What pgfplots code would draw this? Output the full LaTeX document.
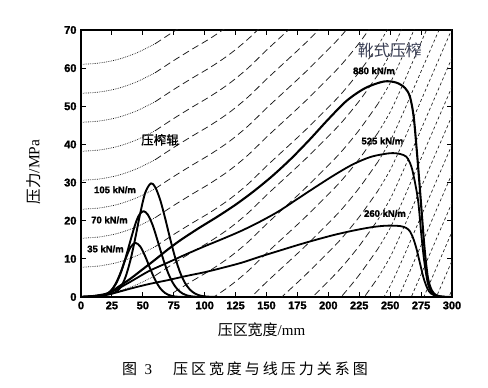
\documentclass[border=0pt]{standalone}
\usepackage{fontspec}
\setmainfont{Liberation Serif}
\newfontfamily\sans{Liberation Sans}
\newfontfamily\heavy[FakeBold=1.6]{Liberation Sans Bold}
\newfontfamily\cjk{Noto Sans CJK SC}
\newfontfamily\cjkb[FakeBold=0.8]{Noto Sans CJK SC}
\newfontfamily\cjkcap[LetterSpace=20]{Noto Sans CJK SC}
\usepackage{pgfplots}
\pgfplotsset{compat=1.18}
\definecolor{shoeblue}{RGB}{58,63,85}
\pgfplotsset{
  bgdot/.style={black!90, line width=0.75pt, dash pattern=on 0.7pt off 1.1pt, smooth},
  bgdash/.style={black!90, line width=0.75pt, dash pattern=on 7pt off 4pt, smooth},
  bgfine/.style={black!90, line width=0.65pt, dash pattern=on 3pt off 2.5pt, smooth},
  main/.style={black, line width=1.9pt, smooth, line join=round},
}
\newcommand{\bgline}[1]{%
  \addplot[bgdot, restrict x to domain=0:60] coordinates {#1};
  \addplot[bgdash, restrict x to domain=60:240] coordinates {#1};
  \addplot[bgfine, restrict x to domain=240:300] coordinates {#1};
}
\begin{document}
\begin{tikzpicture}[x=1pt,y=1pt]
\useasboundingbox (0,0) rectangle (488,388);
\begin{axis}[
  at={(81pt,91pt)}, anchor=south west,
  scale only axis, width=371pt, height=267pt,
  xmin=0, xmax=300, ymin=0, ymax=70,
  xtick={0,25,...,300}, ytick={0,10,...,70},
  tick align=inside, major tick length=5pt,
  axis line style={line width=1.1pt},
  every tick/.style={line width=1pt, black},
  /pgf/number format/assume math mode=true,
  ticklabel style={font=\heavy\fontsize{11}{12}\selectfont},
  xticklabel style={yshift=-1pt},
  yticklabel style={xshift=-1pt},
  clip=true,
]
\bgline{(0,61) (15,61.35) (30,62.3) (45,64.0) (60,66.4) (75,69.6) (90,72.6)}
\bgline{(0,53.4) (15,53.75) (30,54.7) (45,56.4) (60,58.8) (75,62.0) (90,65.0) (105,67.9) (120,71.2)}
\bgline{(0,45.8) (15,46.15) (30,47.1) (45,48.8) (60,51.2) (75,54.4) (90,57.4) (105,60.3) (120,63.6) (135,67.6) (150,72.3)}
\bgline{(0,38.2) (15,38.55) (30,39.5) (45,41.2) (60,43.6) (75,46.8) (90,49.8) (105,52.7) (120,56.0) (135,60.0) (150,64.7) (165,69.2) (180,73.7)}
\bgline{(0,30.6) (15,30.95) (30,31.9) (45,33.6) (60,36.0) (75,39.2) (90,42.2) (105,45.1) (120,48.4) (135,52.4) (150,57.1) (165,61.6) (180,66.1) (195,70.9)}
\bgline{(0,23) (15,23.35) (30,24.3) (45,26.0) (60,28.4) (75,31.6) (90,34.6) (105,37.5) (120,40.8) (135,44.8) (150,49.5) (165,54.0) (180,58.5) (195,63.3) (210,68.3) (225,74.2)}
\bgline{(0,15.4) (15,15.75) (30,16.7) (45,18.4) (60,20.8) (75,24.0) (90,27.0) (105,29.9) (120,33.2) (135,37.2) (150,41.9) (165,46.4) (180,50.9) (195,55.7) (210,60.7) (225,66.6) (240,73.4)}
\bgline{(0,7.8) (15,8.15) (30,9.1) (45,10.8) (60,13.2) (75,16.4) (90,19.4) (105,22.3) (120,25.6) (135,29.6) (150,34.3) (165,38.8) (180,43.3) (195,48.1) (210,53.1) (225,59.0) (240,65.8) (250,71.3)}
\bgline{(0,0.2) (15,0.55) (30,1.5) (45,3.2) (60,5.6) (75,8.8) (90,11.8) (105,14.7) (120,18.0) (135,22.0) (150,26.7) (165,31.2) (180,35.7) (195,40.5) (210,45.5) (225,51.4) (240,58.2) (250,63.7) (260,70.7)}
\bgline{(60,-2.0) (75,1.2) (90,4.2) (105,7.1) (120,10.4) (135,14.4) (150,19.1) (165,23.6) (180,28.1) (195,32.9) (210,37.9) (225,43.8) (240,50.6) (250,56.1) (260,63.1) (270,70.6)}
\bgline{(90,-3.4) (105,-0.5) (120,2.8) (135,6.8) (150,11.5) (165,16.0) (180,20.5) (195,25.3) (210,30.3) (225,36.2) (240,43.0) (250,48.5) (260,55.5) (270,63.0) (280,70.5)}
\bgline{(120,-4.8) (135,-0.8) (150,3.9) (165,8.4) (180,12.9) (195,17.7) (210,22.7) (225,28.6) (240,35.4) (250,40.9) (260,47.9) (270,55.4) (280,62.9) (290,70.4)}
\bgline{(135,-8.4) (150,-3.7) (165,0.8) (180,5.3) (195,10.1) (210,15.1) (225,21.0) (240,27.8) (250,33.3) (260,40.3) (270,47.8) (280,55.3) (290,62.8) (300,70.3)}
\bgline{(150,-11.3) (165,-6.8) (180,-2.3) (195,2.5) (210,7.5) (225,13.4) (240,20.2) (250,25.7) (260,32.7) (270,40.2) (280,47.7) (290,55.2) (300,62.7)}
\bgline{(180,-9.9) (195,-5.1) (210,-0.1) (225,5.8) (240,12.6) (250,18.1) (260,25.1) (270,32.6) (280,40.1) (290,47.6) (300,55.1)}
\bgline{(195,-12.7) (210,-7.7) (225,-1.8) (240,5.0) (250,10.5) (260,17.5) (270,25.0) (280,32.5) (290,40.0) (300,47.5)}
\bgline{(210,-15.3) (225,-9.4) (240,-2.6) (250,2.9) (260,9.9) (270,17.4) (280,24.9) (290,32.4) (300,39.9)}
\bgline{(225,-17.0) (240,-10.2) (250,-4.7) (260,2.3) (270,9.8) (280,17.3) (290,24.8) (300,32.3)}
\bgline{(240,-17.8) (250,-12.3) (260,-5.3) (270,2.2) (280,9.7) (290,17.2) (300,24.7)}
\bgline{(250,-19.9) (260,-12.9) (270,-5.4) (280,2.1) (290,9.6) (300,17.1)}
\bgline{(260,-20.5) (270,-13.0) (280,-5.5) (290,2.0) (300,9.5)}
\bgline{(270,-20.6) (280,-13.1) (290,-5.6) (300,1.9)}

% roll press (35, 70, 105 kN/m)
\addplot[main] coordinates {(0,0) (5,0.05) (10,0.15) (15,0.3) (20,0.6) (24,1.55) (28,3.44) (32,6.39) (36,9.96) (40,13.0) (44,14.2) (48,13.2) (52,10.6) (56,7.39) (60,4.45) (64,2.31) (68,1.04) (72,0.41) (76,0.14) (80,0.04) (86,0)};
\addplot[main] coordinates {(0,0) (5,0.05) (10,0.15) (15,0.3) (20,0.67) (24,1.58) (28,3.32) (32,6.17) (36,10.2) (40,14.8) (44,19.2) (47,21.5) (50.5,22.5) (54,21.6) (58,18.8) (62,14.7) (66,10.4) (70,6.66) (74,3.84) (78,2.0) (82,0.94) (86,0.40) (90,0.15) (95,0.03) (100,0)};
\addplot[main] coordinates {(0,0) (5,0.05) (10,0.15) (15,0.3) (20,0.6) (24,0.85) (28,1.3) (32,2.49) (36,5.25) (40,9.68) (44,15.6) (48,22.1) (52,27.4) (56.5,29.8) (60,28.8) (64,25.5) (68,20.7) (72,15.4) (76,10.5) (80,6.55) (84,3.74) (88,1.96) (92,0.94) (96,0.41) (100,0.17) (106,0.03) (112,0)};
% shoe press (880, 525, 260 kN/m)
\addplot[main, line width=2.1pt] coordinates {(0,0) (10,0.25) (20,0.8) (25,1.5) (30,2.6) (40,4.8) (50,7.3) (60,9.8) (70,12.4) (80,14.8) (95,18.0) (110,21.0) (125,24.2) (140,27.8) (155,31.8) (170,36.3) (185,41.3) (200,46.6) (215,51.5) (230,54.8) (245,56.5) (255,56.2) (262,54.8) (266,52.5) (269,47.3) (271.5,38.5) (274,28.5) (276,20) (278,12) (280.5,5) (283.5,1.8) (287,0.5) (292,0.1) (300,0)};
\addplot[main, line width=1.8pt] coordinates {(0,0) (10,0.2) (20,0.7) (30,2.2) (40,4) (55,6.8) (70,9) (85,11.2) (100,13.3) (115,15.3) (130,17.4) (145,19.8) (160,22.5) (175,25.7) (190,28.9) (205,32) (220,34.8) (235,36.8) (250,37.7) (258,37.5) (263,36.8) (266,35.2) (268.5,32.5) (272.5,25.5) (275,17) (277.5,9.5) (280.5,3.5) (284,1) (289,0.2) (295,0) (300,0)};
\addplot[main, line width=1.8pt] coordinates {(0,0) (10,0.15) (20,0.5) (30,1.3) (40,2.2) (55,3.4) (70,4.4) (85,5.5) (100,6.5) (115,7.7) (130,9) (145,10.6) (160,12.1) (175,13.6) (190,15) (205,16.3) (220,17.4) (235,18.3) (247,18.7) (258,18.6) (263,18.1) (266,17.2) (268.5,15.5) (271,13) (274,9) (277,5) (280,2.3) (283,0.9) (288,0.2) (295,0) (300,0)};

\begin{scope}[every node/.style={font=\heavy\fontsize{9.5}{11}\selectfont, inner sep=0pt}]
\node at (axis cs:27.5,28.1) {105 kN/m};
\node at (axis cs:23,20.2) {70 kN/m};
\node at (axis cs:19.8,12.6) {35 kN/m};
\node at (axis cs:236.9,59.3) {880 kN/m};
\node at (axis cs:243.7,40.9) {525 kN/m};
\node at (axis cs:245.8,21.9) {260 kN/m};
\end{scope}
\node[font=\cjkb\fontsize{12.5}{14}\selectfont, inner sep=0pt] at (axis cs:63.9,41.2) {压榨辊};
\node[font=\cjk\fontsize{16}{18}\selectfont, text=shoeblue, inner sep=0pt] at (axis cs:249.8,64.6) {靴式压榨};
\end{axis}
\node[inner sep=0pt] at (261.5,58) {\fontsize{15}{17}\selectfont\cjk 压区宽度\rmfamily/mm};
\node[inner sep=0pt, rotate=90] at (33.5,216) {\fontsize{15.5}{17}\selectfont\cjk 压力\rmfamily/MPa};
\node[inner sep=0pt] at (245,19.5) {\fontsize{15}{17}\selectfont\cjkcap 图\rmfamily\hspace{0.5em}3\hspace{1.4em}\cjkcap 压区宽度与线压力关系图};
\end{tikzpicture}
\end{document}
